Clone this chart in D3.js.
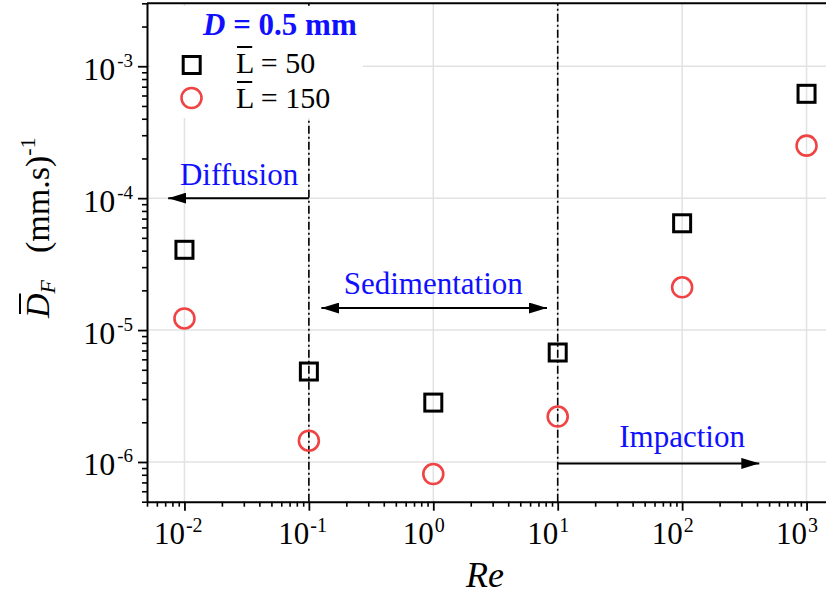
<!DOCTYPE html>
<html>
<head>
<meta charset="utf-8">
<script src="https://cdn.jsdelivr.net/npm/d3@7"></script>
<style>
  html, body { margin: 0; padding: 0; background: #fff; }
  svg { display: block; }
  svg text { font-family: "Liberation Serif", "Times New Roman", serif; }
</style>
</head>
<body>
<svg id="chart" width="826" height="601"></svg>
<script>
// Reynolds numbers and the filtration efficiency for the two fibre lengths
const reValues = [0.01, 0.1, 1, 10, 100, 1000];
const dfL50 = [4.06e-5, 4.85e-6, 2.82e-6, 6.76e-6, 6.45e-5, 6.18e-4];
const dfL150 = [1.225e-5, 1.45e-6, 8.1e-7, 2.21e-6, 2.11e-5, 2.5e-4];

// axis ticks (major decades)
const xMajor = [1e-2, 1e-1, 1e0, 1e1, 1e2, 1e3];
const xExponents = ["-2", "-1", "0", "1", "2", "3"];
const yMajor = [1e-6, 1e-5, 1e-4, 1e-3];
const yExponents = ["-6", "-5", "-4", "-3"];

// regime boundaries (dash-dot lines)
const boundaries = [0.1, 10];

// regime arrows: label, start Re, end Re, level, heads, label Re, label level
const regimeLabels = ["Diffusion", "Sedimentation", "Impaction"];
const regimeFrom = [0.1, 0.126, 10];
const regimeTo = [0.0074, 8.2, 417];
const regimeLevel = [1e-4, 1.47e-5, 9.75e-7];
const regimeBothHeads = [false, true, false];
const regimeLabelRe = [0.0275, 1.0, 100];
const regimeLabelLevel = [1.25e-4, 1.87e-5, 1.31e-6];

const seriesNames = ["50", "150"];

const svg = d3.select("#chart");
const blue = "#1010ff";
const red = "#f04444";

const x = d3.scaleLog().domain([0.005, 2000]).range([147, 844]);
const y = d3.scaleLog().domain([5e-7, 3e-3]).range([501.7, 3.3]);

const x0 = x.range()[0], x1 = 826;
const y0 = y.range()[0], y1 = y.range()[1];

// minor tick values: 2..9 in every decade inside the domain
function minors(scale) {
  const [a, b] = scale.domain();
  const out = [];
  for (let e = Math.floor(Math.log10(a)); e <= Math.ceil(Math.log10(b)); e++) {
    for (let m = 2; m <= 9; m++) {
      const v = m * Math.pow(10, e);
      if (v >= a * 0.999 && v <= b * 1.001) out.push(v);
    }
  }
  return out;
}

// grid
const grid = svg.append("g").attr("stroke", "#e2e2e2").attr("stroke-width", 1.5);
grid.selectAll("line.gx").data(xMajor).join("line")
  .attr("x1", d => x(d)).attr("x2", d => x(d))
  .attr("y1", y0).attr("y2", y1);
grid.selectAll("line.gy").data(yMajor).join("line")
  .attr("x1", x0).attr("x2", x1)
  .attr("y1", d => y(d)).attr("y2", d => y(d));

// boundary lines
svg.append("g").selectAll("line").data(boundaries).join("line")
  .attr("x1", d => x(d)).attr("x2", d => x(d))
  .attr("y1", y0).attr("y2", y1)
  .attr("stroke", "#000").attr("stroke-width", 1.6)
  .attr("stroke-dasharray", "8,3,2,3");

// arrows
const defs = svg.append("defs");
defs.append("marker").attr("id", "head")
  .attr("viewBox", "0 0 18 11").attr("refX", 18).attr("refY", 5.5)
  .attr("markerWidth", 18).attr("markerHeight", 11)
  .attr("markerUnits", "userSpaceOnUse").attr("orient", "auto-start-reverse")
  .append("path").attr("d", "M0,0 L18,5.5 L0,11 Z").attr("fill", "#000");

const regimes = regimeLabels.map((label, i) => ({
  label, from: regimeFrom[i], to: regimeTo[i], level: regimeLevel[i],
  both: regimeBothHeads[i], lx: regimeLabelRe[i], ly: regimeLabelLevel[i]
}));

const reg = svg.append("g");
reg.selectAll("line").data(regimes).join("line")
  .attr("x1", d => x(d.from)).attr("x2", d => x(d.to))
  .attr("y1", d => y(d.level)).attr("y2", d => y(d.level))
  .attr("stroke", "#000").attr("stroke-width", 2)
  .attr("marker-end", "url(#head)")
  .attr("marker-start", d => d.both ? "url(#head)" : null);
reg.selectAll("text").data(regimes).join("text")
  .attr("x", d => x(d.lx)).attr("y", d => y(d.ly))
  .attr("text-anchor", "middle").attr("font-size", 31).attr("fill", blue)
  .text(d => d.label);

// axes
const gx = svg.append("g").attr("transform", `translate(0,${y0})`);
gx.call(d3.axisBottom(x).tickValues(minors(x)).tickSize(5).tickFormat("").tickSizeOuter(0));
gx.call(g => g.selectAll(".tick line").attr("stroke-width", 1.6));
const gxMaj = svg.append("g").attr("transform", `translate(0,${y0})`);
gxMaj.call(d3.axisBottom(x).tickValues(xMajor).tickSize(9).tickFormat("").tickSizeOuter(0));
gxMaj.select(".domain").remove();
gxMaj.selectAll(".tick line").attr("stroke-width", 1.8);
gxMaj.selectAll(".tick").each(function(d, i) {
  const t = d3.select(this);
  t.append("text").attr("x", 0).attr("y", 42).attr("text-anchor", "end")
    .attr("font-size", 31).attr("fill", "#000").text("10");
  t.append("text").attr("x", 1).attr("y", 30).attr("text-anchor", "start")
    .attr("font-size", 20).attr("fill", "#000").text(xExponents[i]);
});

const gy = svg.append("g").attr("transform", `translate(${x0},0)`);
gy.call(d3.axisLeft(y).tickValues(minors(y)).tickSize(5).tickFormat("").tickSizeOuter(0));
gy.call(g => g.selectAll(".tick line").attr("stroke-width", 1.6));
const gyMaj = svg.append("g").attr("transform", `translate(${x0},0)`);
gyMaj.call(d3.axisLeft(y).tickValues(yMajor).tickSize(9).tickFormat("").tickSizeOuter(0));
gyMaj.select(".domain").remove();
gyMaj.selectAll(".tick line").attr("stroke-width", 1.8);
gyMaj.selectAll(".tick").each(function(d, i) {
  const t = d3.select(this).append("text").attr("x", -14).attr("y", 13)
    .attr("text-anchor", "end").attr("fill", "#000").attr("font-size", 32);
  t.append("tspan").text("10");
  t.append("tspan").attr("dx", 2).attr("dy", -13).attr("font-size", 19).text(yExponents[i]);
});
svg.selectAll(".domain").attr("stroke-width", 2);

// top frame line
svg.append("line").attr("x1", x0).attr("x2", x1).attr("y1", y1).attr("y2", y1)
  .attr("stroke", "#000").attr("stroke-width", 2);

// markers
const pts = svg.append("g");
const sq = 17;
pts.selectAll("rect").data(reValues.map((r, i) => [r, dfL50[i]])).join("rect")
  .attr("x", d => x(d[0]) - sq / 2).attr("y", d => y(d[1]) - sq / 2)
  .attr("width", sq).attr("height", sq)
  .attr("fill", "none").attr("stroke", "#000").attr("stroke-width", 3);
pts.selectAll("circle").data(reValues.map((r, i) => [r, dfL150[i]])).join("circle")
  .attr("cx", d => x(d[0])).attr("cy", d => y(d[1])).attr("r", 10)
  .attr("fill", "none").attr("stroke", red).attr("stroke-width", 2.6);

// legend
const leg = svg.append("g");
leg.append("rect").attr("x", 150).attr("y", 6).attr("width", 213).attr("height", 112).attr("fill", "#fff");
const title = leg.append("text").attr("x", 203).attr("y", 35)
  .attr("font-size", 31).attr("font-weight", "bold").attr("fill", blue);
title.append("tspan").attr("font-style", "italic").text("D");
title.append("tspan").text(" = 0.5 mm");

leg.append("rect").attr("x", 191.7 - sq / 2).attr("y", 65 - sq / 2).attr("width", sq).attr("height", sq)
  .attr("fill", "none").attr("stroke", "#000").attr("stroke-width", 3);
leg.append("circle").attr("cx", 191.5).attr("cy", 98).attr("r", 10)
  .attr("fill", "none").attr("stroke", red).attr("stroke-width", 2.6);

// text with an overlined first glyph
function overlined(parent, px, py, size, first, rest, barGap) {
  const t = parent.append("text").attr("x", px).attr("y", py).attr("font-size", size).attr("fill", "#000");
  t.append("tspan").text(first);
  t.append("tspan").text(rest);
  const ext = t.node().getExtentOfChar(0);
  parent.append("line")
    .attr("x1", ext.x + 1).attr("x2", ext.x + ext.width - 1)
    .attr("y1", ext.y + barGap).attr("y2", ext.y + barGap)
    .attr("stroke", "#000").attr("stroke-width", 2);
  return t;
}
overlined(leg, 236, 73, 30, "L", " = " + seriesNames[0], 1);
overlined(leg, 236, 108, 30, "L", " = " + seriesNames[1], 1);

// axis titles
svg.append("text").attr("x", 485).attr("y", 587).attr("text-anchor", "middle")
  .attr("font-size", 36).attr("font-style", "italic").text("Re");

const yt = svg.append("g").attr("transform", "translate(49,318) rotate(-90)");
const ytText = yt.append("text").attr("x", 0).attr("y", 0).attr("font-size", 34).attr("fill", "#000");
ytText.append("tspan").attr("font-style", "italic").text("D");
ytText.append("tspan").attr("font-style", "italic").attr("font-size", 22).attr("dy", 6).text("F");
ytText.append("tspan").attr("dy", -6).attr("dx", 10).text("\u00a0\u00a0(mm.s)");
ytText.append("tspan").attr("font-size", 22).attr("dy", -14).text("-1");
const dExt = ytText.node().getExtentOfChar(0);
yt.append("line")
  .attr("x1", dExt.x + 4).attr("x2", dExt.x + dExt.width)
  .attr("y1", dExt.y + 1).attr("y2", dExt.y + 1)
  .attr("stroke", "#000").attr("stroke-width", 2);
</script>
</body>
</html>
